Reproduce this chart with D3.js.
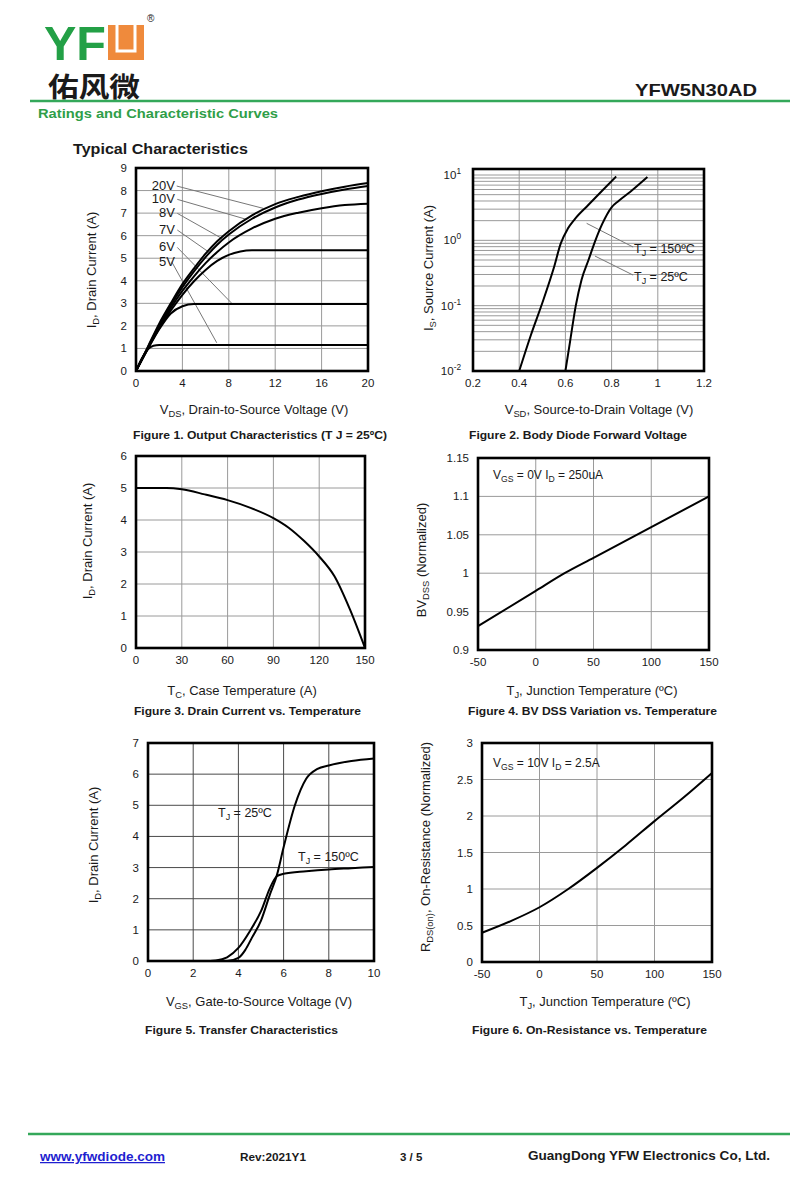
<!DOCTYPE html>
<html>
<head>
<meta charset="utf-8">
<script src="https://cdn.jsdelivr.net/npm/d3@7"></script>
<style>
body { margin:0; background:#fff; }
text { font-family: "Liberation Sans", Arial, sans-serif; fill:#1a1a1a; }
</style>
</head>
<body>
<div id="page"></div>
<script>
const W = 800, H = 1199;

// Figure 1 - output characteristics, [VDS, ID]
const fig1Labels = ["20V","10V","8V","7V","6V","5V"];
const fig1_20V = [[0,0],[1,1.05],[2,2.1],[3,3.0],[4,3.85],[5,4.55],[6,5.2],[7,5.75],[8,6.2],[10,6.9],[12,7.4],[14,7.72],[16,7.97],[18,8.17],[20,8.33]];
const fig1_10V = [[0,0],[1,1.02],[2,2.02],[3,2.92],[4,3.72],[5,4.42],[6,5.05],[7,5.6],[8,6.05],[10,6.75],[12,7.25],[14,7.6],[16,7.85],[18,8.05],[20,8.2]];
const fig1_8V = [[0,0],[1,1.0],[2,1.95],[3,2.8],[4,3.55],[5,4.2],[6,4.78],[7,5.28],[8,5.7],[10,6.32],[12,6.75],[14,7.02],[16,7.22],[18,7.36],[20,7.42]];
const fig1_7V = [[0,0],[1,0.98],[2,1.88],[3,2.68],[4,3.38],[5,3.98],[6,4.48],[7,4.88],[8,5.15],[9,5.3],[10,5.35],[20,5.35]];
const fig1_6V = [[0,0],[1,0.95],[2,1.85],[3,2.55],[4,2.87],[5,2.97],[20,2.97]];
const fig1_5V = [[0,0],[0.5,0.55],[1,0.95],[1.5,1.12],[2,1.15],[20,1.15]];
const fig1Leaders = [[[3.51,8.2],[10.97,7.21]],[[3.56,7.61],[9.54,6.72]],[[3.56,6.99],[7.39,5.88]],[[3.56,6.25],[6.23,5.29]],[[3.56,5.48],[8.39,2.93]],[[3.08,4.84],[6.96,1.25]]];
const fig1XTicks = [0,4,8,12,16,20];
const fig1YTicks = [0,1,2,3,4,5,6,7,8,9];

// Figure 2 - body diode, [VSD, IS]
const fig2_150C = [[0.4,0.01],[0.45,0.035],[0.5,0.11],[0.55,0.38],[0.58,0.9],[0.61,1.5],[0.64,2.1],[0.7,3.5],[0.76,5.8],[0.82,9.5]];
const fig2_25C = [[0.6,0.01],[0.62,0.028],[0.645,0.1],[0.67,0.25],[0.7,0.5],[0.73,1.0],[0.76,1.8],[0.8,3.2],[0.83,4.0],[0.88,5.5],[0.955,9.3]];
const fig2Leaders = [[[0.692,1.82],[0.893,0.79]],[[0.728,0.575],[0.893,0.294]]];
const fig2XTicks = [0.2,0.4,0.6,0.8,1,1.2];
const fig2YTicks = [-2,-1,0,1];

// Figure 3 - drain current vs case temperature, [TC, ID]
const fig3Curve = [[0,5],[20,5.0],[30,4.96],[45,4.8],[60,4.62],[75,4.38],[90,4.06],[100,3.76],[110,3.35],[120,2.86],[130,2.24],[140,1.22],[150,0]];
const fig3XTicks = [0,30,60,90,120,150];
const fig3YTicks = [0,1,2,3,4,5,6];

// Figure 4 - BVDSS vs TJ
const fig4Curve = [[-50,0.931],[0,0.977],[25,1.0],[50,1.02],[100,1.06],[150,1.1]];
const fig4XTicks = [-50,0,50,100,150];
const fig4YTicks = [0.9,0.95,1,1.05,1.1,1.15];

// Figure 5 - transfer, [VGS, ID]
const fig5_25C = [[0,0],[3.5,0],[4,0.1],[4.3,0.35],[4.6,0.75],[5,1.3],[5.4,2.15],[5.7,2.75],[6,3.65],[6.5,5.0],[7,5.85],[7.5,6.17],[8,6.28],[9,6.42],[10,6.5]];
const fig5_150C = [[0,0],[2.5,0],[3,0.02],[3.5,0.12],[4,0.42],[4.5,0.95],[5,1.6],[5.4,2.35],[5.7,2.72],[6,2.8],[7,2.88],[8,2.94],[9,2.98],[10,3.02]];
const fig5XTicks = [0,2,4,6,8,10];
const fig5YTicks = [0,1,2,3,4,5,6,7];

// Figure 6 - on-resistance vs TJ
const fig6Curve = [[-50,0.4],[-25,0.56],[0,0.75],[25,1.0],[50,1.29],[75,1.6],[100,1.93],[125,2.25],[150,2.59]];
const fig6XTicks = [-50,0,50,100,150];
const fig6YTicks = [0,0.5,1,1.5,2,2.5,3];

const svg = d3.select("#page").append("svg").attr("width", W).attr("height", H);

function rich(sel, parts) {
  parts.forEach(p => {
    const t = sel.append("tspan").text(p[0]);
    if (p[1] === "sub") t.attr("font-size", "0.72em").attr("dy", 3);
    if (p[1] === "sup") t.attr("font-size", "0.72em").attr("dy", -5);
    if (p[1] === "back") t.attr("dy", -3);
  });
  return sel;
}

function chart(c) {
  const g = svg.append("g");
  const x = d3.scaleLinear().domain(c.xd).range([c.l, c.r]);
  const y = (c.log ? d3.scaleLog() : d3.scaleLinear()).domain(c.yd).range([c.b, c.t]);
  const gc = c.gridColor || "#9a9a9a";
  g.selectAll("line.vg").data(c.xGrid).enter().append("line")
    .attr("x1", d => x(d)).attr("x2", d => x(d))
    .attr("y1", c.top || c.t).attr("y2", c.b)
    .style("stroke", gc).style("stroke-width", 1);
  g.selectAll("line.hg").data(c.yGrid).enter().append("line")
    .attr("x1", c.l).attr("x2", c.r)
    .attr("y1", d => y(d)).attr("y2", d => y(d))
    .style("stroke", gc).style("stroke-width", 1);
  // tick labels
  g.selectAll("text.xt").data(c.xTicks).enter().append("text")
    .attr("x", d => x(d)).attr("y", c.b + 16)
    .attr("text-anchor", "middle").attr("font-size", 11.5)
    .text(c.xFmt || (d => d));
  if (!c.log) {
    g.selectAll("text.yt").data(c.yTicks).enter().append("text")
      .attr("x", c.l - 9).attr("y", d => y(d) + 4)
      .attr("text-anchor", "end").attr("font-size", 11.5)
      .text(c.yFmt || (d => d));
  }
  const line = d3.line().x(d => x(d[0])).y(d => y(d[1]));
  return {g, x, y, line, c};
}

function frame(ch) {
  const c = ch.c;
  ch.g.append("rect").attr("x", c.l).attr("y", c.top || c.t)
    .attr("width", c.r - c.l).attr("height", c.b - (c.top || c.t))
    .style("fill", "none").style("stroke", "#000").style("stroke-width", 2.6);
}

function curve(ch, data) {
  ch.g.append("path").datum(data).attr("d", ch.line.curve(d3.curveMonotoneX))
    .style("fill", "none").style("stroke", "#000").style("stroke-width", 2);
}

function leader(ch, pts) {
  ch.g.append("line")
    .attr("x1", ch.x(pts[0][0])).attr("y1", ch.y(pts[0][1]))
    .attr("x2", ch.x(pts[1][0])).attr("y2", ch.y(pts[1][1]))
    .style("stroke", "#777").style("stroke-width", 1);
}

function yTitle(x, y, parts) {
  rich(svg.append("text").attr("transform", `translate(${x},${y}) rotate(-90)`)
    .attr("text-anchor", "middle").attr("dy", "0.35em").attr("font-size", 13), parts);
}
function xTitle(x, y, parts) {
  rich(svg.append("text").attr("x", x).attr("y", y).attr("text-anchor", "middle").attr("font-size", 13), parts);
}
function caption(x, y, s, len) {
  svg.append("text").attr("x", x).attr("y", y).attr("font-size", 11.5)
    .attr("font-weight", "bold").attr("textLength", len).attr("lengthAdjust", "spacingAndGlyphs").text(s);
}

// ---------- header ----------
svg.append("text").attr("x", 44).attr("y", 60).attr("font-size", 48).attr("font-weight", "bold")
  .attr("textLength", 62).attr("lengthAdjust", "spacingAndGlyphs")
  .style("fill", "#23a046").text("YF");
svg.append("rect").attr("x", 108).attr("y", 25).attr("width", 36).attr("height", 35).style("fill", "#ef8a3c");
svg.append("path").attr("d", "M117,25 V51 H135 V25").style("fill", "none").style("stroke", "#fff").style("stroke-width", 3);
svg.append("text").attr("x", 147).attr("y", 22).attr("font-size", 10).text("®");
svg.append("text").attr("x", 48).attr("y", 97).attr("font-size", 27).attr("font-weight", "bold")
  .attr("textLength", 92).attr("lengthAdjust", "spacingAndGlyphs")
  .style("font-family", "'Noto Sans CJK SC', sans-serif").text("佑风微");
svg.append("text").attr("x", 757).attr("y", 96).attr("text-anchor", "end").attr("font-size", 17)
  .attr("font-weight", "bold").attr("textLength", 122).attr("lengthAdjust", "spacingAndGlyphs").text("YFW5N30AD");
svg.append("line").attr("x1", 30).attr("x2", 790).attr("y1", 101).attr("y2", 101)
  .style("stroke", "#34a85a").style("stroke-width", 2.5);
svg.append("text").attr("x", 38).attr("y", 118).attr("font-size", 13.5).attr("font-weight", "bold")
  .attr("textLength", 240).attr("lengthAdjust", "spacingAndGlyphs")
  .style("fill", "#2f9e48").text("Ratings and Characteristic Curves");
svg.append("text").attr("x", 73).attr("y", 154).attr("font-size", 15.5).attr("font-weight", "bold")
  .attr("textLength", 175).attr("lengthAdjust", "spacingAndGlyphs").text("Typical Characteristics");

// ---------- Figure 1 ----------
const c1 = chart({l:136, r:368, t:168, b:371, xd:[0,20], yd:[0,9],
  xGrid:[4,8,12,16], yGrid:[1,2,3,4,5,6,7,8], xTicks:fig1XTicks, yTicks:fig1YTicks});
fig1Leaders.forEach(p => leader(c1, p));
[fig1_20V, fig1_10V, fig1_8V, fig1_7V, fig1_6V, fig1_5V].forEach(d => curve(c1, d));
c1.g.selectAll("text.lab").data(fig1Labels).enter().append("text")
  .attr("x", c1.x(3.35)).attr("y", (d, i) => c1.y(fig1Leaders[i][0][1]) + 4)
  .attr("text-anchor", "end").attr("font-size", 13).text(d => d);
frame(c1);
yTitle(91, 270, [["I"],["D","sub"],[", Drain Current (A)","back"]]);
xTitle(254, 414, [["V"],["DS","sub"],[", Drain-to-Source Voltage (V)","back"]]);
caption(133, 439, "Figure 1. Output Characteristics (T J = 25ºC)", 254);

// ---------- Figure 2 ----------
const minor2 = [];
fig2YTicks.forEach(e => { for (let k = 1; k <= 9; k++) { const v = k * Math.pow(10, e); if (v <= 10) minor2.push(v); } });
const c2 = chart({l:473, r:704, t:175, top:169, b:371, xd:[0.2,1.2], yd:[0.01,10], log:true,
  xGrid:[0.4,0.6,0.8,1.0], yGrid:minor2, xTicks:fig2XTicks, xFmt:d => d});
c2.g.selectAll("text.yt").data(fig2YTicks).enter().append("text")
  .attr("x", 461).attr("y", d => c2.y(Math.pow(10, d)) + 4).attr("text-anchor", "end").attr("font-size", 11.5)
  .each(function(d) { rich(d3.select(this), [["10"],[String(d),"sup"]]); });
fig2Leaders.forEach(p => leader(c2, p));
curve(c2, fig2_150C); curve(c2, fig2_25C);
rich(c2.g.append("text").attr("x", 634).attr("y", 253).attr("font-size", 12.5), [["T"],["J","sub"],[" = 150ºC","back"]]);
rich(c2.g.append("text").attr("x", 634).attr("y", 281).attr("font-size", 12.5), [["T"],["J","sub"],[" = 25ºC","back"]]);
frame(c2);
yTitle(428, 268, [["I"],["S","sub"],[", Source Current (A)","back"]]);
xTitle(599, 414, [["V"],["SD","sub"],[", Source-to-Drain Voltage (V)","back"]]);
caption(469, 439, "Figure 2. Body Diode Forward Voltage", 218);

// ---------- Figure 3 ----------
const c3 = chart({l:136, r:365, t:456, b:648, xd:[0,150], yd:[0,6],
  xGrid:[30,60,90,120], yGrid:[1,2,3,4,5], xTicks:fig3XTicks, yTicks:fig3YTicks});
curve(c3, fig3Curve);
frame(c3);
yTitle(87, 541, [["I"],["D","sub"],[", Drain Current (A)","back"]]);
xTitle(242, 695, [["T"],["C","sub"],[", Case Temperature (A)","back"]]);
caption(134, 715, "Figure 3. Drain Current vs. Temperature", 227);

// ---------- Figure 4 ----------
const c4 = chart({l:478, r:709, t:458, b:650, xd:[-50,150], yd:[0.9,1.15],
  xGrid:[0,50,100], yGrid:[0.95,1,1.05,1.1], xTicks:fig4XTicks, yTicks:fig4YTicks});
curve(c4, fig4Curve);
rich(c4.g.append("text").attr("x", 493).attr("y", 479).attr("font-size", 12),
  [["V"],["GS","sub"],[" = 0V I","back"],["D","sub"],[" = 250uA","back"]]);
frame(c4);
yTitle(421, 560, [["BV"],["DSS","sub"],[" (Normalized)","back"]]);
xTitle(592, 695, [["T"],["J","sub"],[", Junction Temperature (ºC)","back"]]);
caption(468, 715, "Figure 4. BV DSS Variation vs. Temperature", 249);

// ---------- Figure 5 ----------
const c5 = chart({l:148, r:374, t:743, b:961, xd:[0,10], yd:[0,7], gridColor:"#4a4a4a",
  xGrid:[2,4,6,8], yGrid:[1,2,3,4,5,6], xTicks:fig5XTicks, yTicks:fig5YTicks});
curve(c5, fig5_150C); curve(c5, fig5_25C);
rich(c5.g.append("text").attr("x", 218).attr("y", 817).attr("font-size", 12.5), [["T"],["J","sub"],[" = 25ºC","back"]]);
rich(c5.g.append("text").attr("x", 298).attr("y", 861).attr("font-size", 12.5), [["T"],["J","sub"],[" = 150ºC","back"]]);
frame(c5);
yTitle(93, 845, [["I"],["D","sub"],[", Drain Current (A)","back"]]);
xTitle(259, 1006, [["V"],["GS","sub"],[", Gate-to-Source Voltage (V)","back"]]);
caption(145, 1034, "Figure 5. Transfer Characteristics", 193);

// ---------- Figure 6 ----------
const c6 = chart({l:482, r:712, t:743, b:962, xd:[-50,150], yd:[0,3],
  xGrid:[0,50,100], yGrid:[0.5,1,1.5,2,2.5], xTicks:fig6XTicks, yTicks:fig6YTicks});
curve(c6, fig6Curve);
rich(c6.g.append("text").attr("x", 493).attr("y", 767).attr("font-size", 12),
  [["V"],["GS","sub"],[" = 10V I","back"],["D","sub"],[" = 2.5A","back"]]);
frame(c6);
yTitle(425, 847, [["R"],["DS(on)","sub"],[", On-Resistance (Normalized)","back"]]);
xTitle(605, 1006, [["T"],["J","sub"],[", Junction Temperature (ºC)","back"]]);
caption(472, 1034, "Figure 6. On-Resistance vs. Temperature", 235);

// ---------- footer ----------
svg.append("line").attr("x1", 28).attr("x2", 790).attr("y1", 1134).attr("y2", 1134)
  .style("stroke", "#34a85a").style("stroke-width", 2.5);
svg.append("text").attr("x", 40).attr("y", 1161).attr("font-size", 12.5).attr("font-weight", "bold")
  .attr("text-decoration", "underline").attr("textLength", 125).attr("lengthAdjust", "spacingAndGlyphs")
  .style("fill", "#1f1fd0").text("www.yfwdiode.com");
svg.append("text").attr("x", 240).attr("y", 1161).attr("font-size", 11.5).attr("font-weight", "bold")
  .attr("textLength", 66).attr("lengthAdjust", "spacingAndGlyphs").text("Rev:2021Y1");
svg.append("text").attr("x", 400).attr("y", 1161).attr("font-size", 11.5).attr("font-weight", "bold").text("3 / 5");
svg.append("text").attr("x", 528).attr("y", 1160).attr("font-size", 13).attr("font-weight", "bold")
  .attr("textLength", 242).attr("lengthAdjust", "spacingAndGlyphs").text("GuangDong YFW Electronics Co, Ltd.");
</script>
</body>
</html>
